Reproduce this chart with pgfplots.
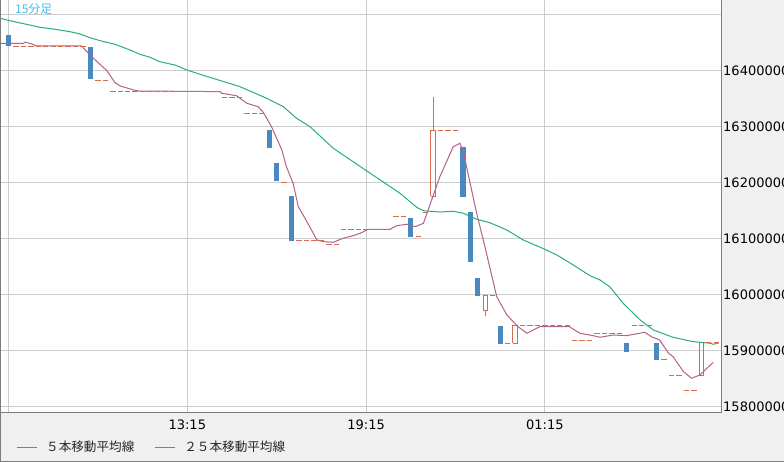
\documentclass[border=0pt]{standalone}
\usepackage{fontspec}
\setmainfont{DejaVu Sans}
\newfontfamily\jp{Noto Sans CJK JP}
\usepackage{pgfplots}
\pgfplotsset{compat=1.18}

\definecolor{candblue}{RGB}{74,137,192}
\definecolor{candred}{RGB}{217,106,80}
\definecolor{mafive}{RGB}{178,98,140}
\definecolor{matwentyfive}{RGB}{40,175,120}
\definecolor{gridgray}{RGB}{204,204,204}
\definecolor{panel}{RGB}{240,240,240}
\definecolor{framegray}{RGB}{125,125,125}
\definecolor{titlecyan}{RGB}{70,190,240}

\begin{document}
\begin{tikzpicture}
\fill[panel] (0,0) rectangle (784bp,462bp);
\begin{axis}[
  at={(1bp,50bp)}, anchor=south west,
  scale only axis, width=720bp, height=412bp,
  xmin=-1.007, xmax=95.64,
  ymin=15790900, ymax=16525300,
  axis background/.style={fill=white},
  axis line style={draw=none},
  xtick={0,24,48,72},
  xticklabels={,13:15,19:15,01:15},
  ytick={15800000,15900000,16000000,16100000,16200000,16300000,16400000,16500000},
  yticklabels={15800000,15900000,16000000,16100000,16200000,16300000,16400000,},
  yticklabel pos=right,
  major tick length=0pt,
  grid=major,
  major grid style={gridgray, line width=1bp},
  tick label style={font=\fontsize{13bp}{15bp}\selectfont, text=black},
  xticklabel style={yshift=-4bp},
  yticklabel style={anchor=west, xshift=-1.3bp},
  legend style={at={(axis description cs:0,0)}, anchor=west, xshift=15bp, yshift=-35bp,
    draw=none, fill=none, inner sep=0pt, legend columns=2,
    nodes={inner sep=0pt, text=black!85, font=\jp\fontsize{12.6bp}{14bp}\selectfont},
    /tikz/every even column/.append style={column sep=20bp}},
  legend image code/.code={\draw[#1] (0bp,0bp) -- (20bp,0bp); \path (29bp,0bp);},
]

% flat candles (open = high = low = close)
\addplot[candred, only marks, mark=-, mark size=2.7bp, mark options={line width=1bp}, forget plot] table {
i v
1 16443000
2 16443000
3 16443000
4 16443000
5 16443000
6 16443000
7 16443000
8 16443000
9 16443000
10 16443000
12 16382000
13 16382000
14 16363000
15 16363000
16 16363000
17 16363000
18 16363000
19 16363000
20 16363000
21 16363000
22 16363000
23 16363000
24 16363000
25 16363000
26 16363000
27 16363000
28 16363000
29 16352000
30 16352000
31 16352000
32 16323400
33 16323400
34 16323400
37 16200400
39 16097000
40 16097000
41 16097000
42 16097000
43 16088600
44 16088600
45 16116600
46 16116600
47 16116600
48 16116600
49 16116600
50 16116600
51 16116600
52 16139800
53 16139800
55 16104100
56 16147000
58 16293000
59 16293000
60 16293000
65 15999000
67 15913400
69 15944200
70 15944200
71 15944200
72 15944200
73 15944200
74 15944200
75 15944200
76 15918800
77 15918800
78 15918800
79 15931200
80 15931200
81 15931200
82 15931200
84 15944200
85 15944200
86 15944200
88 15884800
89 15856400
90 15856400
91 15828400
92 15828400
94 15913900
95 15913900
};

% falling candles: open to close
\addplot[candblue, line width=5.3bp, unbounded coords=jump, forget plot] table {
i v
0 16463000
0 16443000
nan nan
11 16441500
11 16385000
nan nan
35 16293600
35 16261500
nan nan
36 16234800
36 16203200
nan nan
38 16176000
38 16096300
nan nan
54 16136700
54 16103400
nan nan
61 16263300
61 16174700
nan nan
62 16147400
62 16058800
nan nan
63 16029800
63 15998200
nan nan
66 15944200
66 15912700
nan nan
83 15913900
83 15898400
nan nan
87 15913900
87 15883600
};

% rising candles: hollow bodies
\addplot[candred, line width=1bp, unbounded coords=jump, forget plot] table {
i v
56.705 16175400
57.295 16175400
57.295 16293000
56.705 16293000
56.705 16175400
nan nan
63.705 15972200
64.295 15972200
64.295 15999000
63.705 15999000
63.705 15972200
nan nan
67.705 15913400
68.295 15913400
68.295 15944200
67.705 15944200
67.705 15913400
nan nan
92.705 15856400
93.295 15856400
93.295 15913900
92.705 15913900
92.705 15856400
};

% wicks
\addplot[candred, line width=1bp, unbounded coords=jump, forget plot] table {
i v
57 16293000
57 16352900
nan nan
64 15972200
64 15962600
};

% 5-bar moving average
\addplot[mafive, line width=1bp] table {
i v
-1.2 16448000
2.0 16448000
2.3 16450000
3.3 16446300
3.7 16443300
9.8 16443300
11.4 16421400
13.2 16399300
14.3 16377900
15.0 16372000
16.8 16364900
17.4 16363100
28.4 16362000
28.6 16359000
30.6 16354700
32.0 16341200
33.5 16335100
34.2 16325100
35.3 16299500
36.7 16257900
37.3 16228200
38.2 16198600
38.9 16156900
39.8 16136200
41.4 16097600
42.3 16094500
43.6 16093400
44.9 16100500
46.1 16104600
47.2 16109500
48.3 16116600
51.2 16116600
52.1 16123000
53.45 16125500
54.6 16121200
55.7 16127300
56.8 16168800
57.9 16210300
59.7 16263800
60.6 16269900
61.05 16254900
62.84 16145100
63.73 16097800
65.53 15996700
66.9 15963800
68.4 15942900
69.6 15931200
71.3 15942900
75.3 15942900
76.7 15931200
78.5 15926900
79.4 15924100
81.2 15928200
82.9 15926900
85.4 15932900
86.3 15925100
87.4 15919300
88.6 15895600
89.2 15889500
90.6 15862800
91.7 15851000
92.8 15856900
94.6 15879500
};
\addlegendentry{５本移動平均線}

% 25-bar moving average
\addplot[matwentyfive, line width=1bp] table {
i v
-1.14 16492700
0.2 16488400
2.21 16482500
4.23 16476600
6.24 16473100
8.26 16468800
9.6 16464700
10.94 16458100
12.28 16452800
14.3 16446300
16.3 16436200
17.65 16428500
19.0 16423200
20.3 16415300
22.35 16409400
23.96 16400500
25.7 16392900
31.07 16370800
34.66 16350100
36.89 16335100
38.68 16314400
40.47 16299500
43.6 16260900
47.9 16222300
52.55 16180800
54.79 16155800
55.68 16149700
57.9 16147400
59.7 16148700
61.05 16145100
62.85 16134400
64.6 16128400
66.9 16115300
69.1 16097500
71.9 16081500
73.6 16070800
75.8 16053000
78.05 16033900
79.4 16026200
80.7 16014300
82.5 15984700
84.8 15954900
86.55 15937100
89.2 15924100
91.9 15916300
94.2 15913400
94.6 15911600
95.3 15913900
};
\addlegendentry{２５本移動平均線}

\node[anchor=west, inner sep=0pt, text=titlecyan, font=\jp\fontsize{12bp}{14bp}\selectfont]
  at (axis description cs:0.0194,0.977) {15分足};
\end{axis}
\draw[framegray, line width=1bp] (0.5bp,462bp) -- (0.5bp,0.5bp) -- (784bp,0.5bp);
\draw[framegray, line width=1bp] (0bp,49.5bp) -- (721.5bp,49.5bp) -- (721.5bp,462bp);
\pgfresetboundingbox
\path[use as bounding box] (0,0) rectangle (784bp,462bp);
\end{tikzpicture}
\end{document}
